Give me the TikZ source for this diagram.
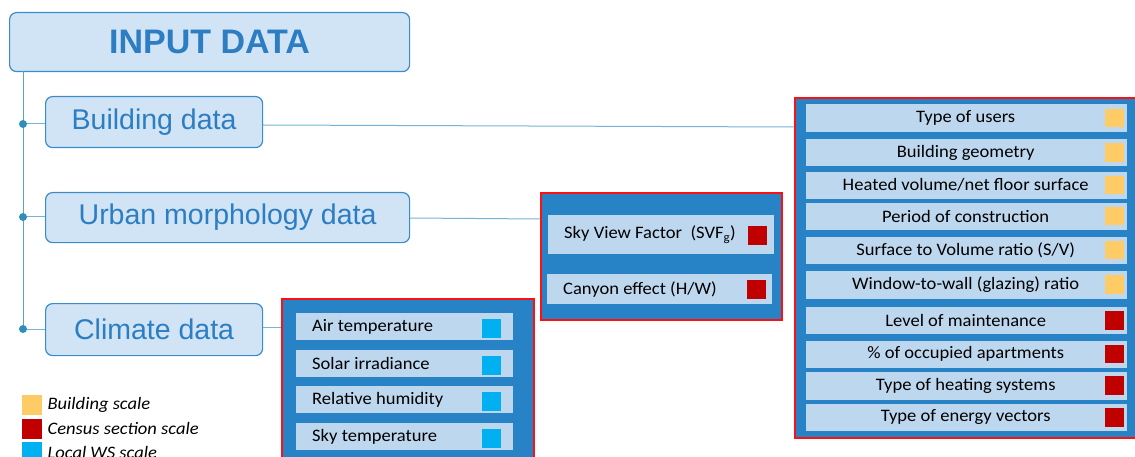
\documentclass[tikz,border=0pt]{standalone}
\usepackage{fontspec}
\setmainfont[FakeStretch=1.06]{Carlito}
\newfontfamily\arialf{Liberation Sans}
\definecolor{boxfill}{HTML}{D0E4F5}
\definecolor{boxline}{HTML}{3A8CCB}
\definecolor{titleblue}{HTML}{2C7DC2}
\definecolor{connc}{HTML}{78B2D6}
\definecolor{dotc}{HTML}{2F8FBA}
\definecolor{panelblue}{HTML}{2882C6}
\definecolor{itemfill}{HTML}{BDD7EE}
\definecolor{sqyellow}{HTML}{FFCB65}
\definecolor{sqred}{HTML}{C00000}
\definecolor{sqcyan}{HTML}{00B0F0}
\definecolor{redline}{HTML}{FF1010}
\begin{document}
\begin{tikzpicture}[x=1pt,y=-1pt,
  mainbox/.style={draw=boxline, fill=boxfill, rounded corners=7pt, line width=1.2pt,
    text=titleblue, font=\arialf\fontsize{28.5}{30}\selectfont, anchor=north west, inner sep=0pt},
  panel/.style={draw=redline, line width=2pt, fill=panelblue, anchor=north west, inner sep=0pt},
  item/.style={fill=itemfill, anchor=north west, inner sep=0pt, text=black,
    font=\fontsize{17.5}{20}\selectfont},
  sq/.style={anchor=north west, minimum size=18.5pt, inner sep=0pt},
  conn/.style={draw=connc, line width=1pt},
  leg/.style={anchor=west, inner sep=0pt, font=\itshape\fontsize{17.5}{20}\selectfont}
]
\useasboundingbox (0,0) rectangle (1135,457);
\clip (0,0) rectangle (1135,457);

% main boxes
\node[mainbox, minimum width=400pt, minimum height=59pt,
  font=\arialf\bfseries\fontsize{34}{36}\selectfont] (title) at (9,12) {INPUT DATA};
\node[mainbox, minimum width=217pt, minimum height=51pt] (bd) at (45,96) {Building data};
\node[mainbox, minimum width=364pt, minimum height=50pt] (ud) at (45,192) {Urban morphology data};
\node[mainbox, minimum width=217pt, minimum height=52pt] (cd) at (45,303) {Climate data};

% tree
\coordinate (vtop) at (23,71);
\coordinate (d1) at (23,124);
\coordinate (d2) at (23,217);
\coordinate (d3) at (23,329);
\draw[conn, draw=dotc!80] (vtop) -- (d3);
\draw[conn] (d1) -- (bd.west |- d1);
\draw[conn] (d2) -- (ud.west |- d2);
\draw[conn] (d3) -- (cd.west |- d3);
\fill[dotc] (d1) circle (4);
\fill[dotc] (d2) circle (4);
\fill[dotc] (d3) circle (4);

% panels
\node[panel, minimum width=252pt, minimum height=180pt] (cp) at (281,298) {};
\node[panel, minimum width=241pt, minimum height=127pt] (mp) at (540,192) {};
\node[panel, minimum width=360pt, minimum height=340pt] (bp) at (794,97) {};

% connectors to panels
\coordinate (bpin) at (794,127);
\coordinate (mpin) at (540,219);
\coordinate (cpin) at (281,327);
\draw[conn] (bd.east |- 0,125) -- (bpin);
\draw[conn] (ud.east |- 0,218) -- (mpin);
\draw[conn] (cd.east |- 0,327) -- (cpin);

% climate items
\foreach \y/\t/\n in {313/{Air temperature}/c1, 350/{Solar irradiance}/c2, 386/{Relative humidity}/c3, 423/{Sky temperature}/c4}{
  \node[item, minimum width=217pt, minimum height=26.5pt] (\n) at (296,\y) {};
  \node[anchor=west, inner sep=0pt, font=\fontsize{17.5}{20}\selectfont] (\n t) at ([xshift=16pt]\n.west) {\t};
  \node[sq, fill=sqcyan] (\n s) at (482,\y+6) {};
}

% morphology items
\node[item, minimum width=226pt, minimum height=39pt] (m1) at (548,215) {};
\node[anchor=west, inner sep=0pt, font=\fontsize{17.5}{20}\selectfont] (m1t) at ([xshift=16pt]m1.west) {Sky View Factor\ \ (SVF\textsubscript{g})};
\node[sq, fill=sqred] (m1s) at (748,226) {};
\node[item, minimum width=225pt, minimum height=30pt] (m2) at (547,274) {};
\node[anchor=west, inner sep=0pt, font=\fontsize{17.5}{20}\selectfont] (m2t) at ([xshift=16pt]m2.west) {Canyon effect (H/W)};
\node[sq, fill=sqred] (m2s) at (747,280) {};

% building items
\foreach \y/\h/\t/\c/\n in {
  104/28/{Type of users}/sqyellow/b1,
  139/27/{Building geometry}/sqyellow/b2,
  171.5/27/{Heated volume/net floor surface}/sqyellow/b3,
  202.5/27/{Period of construction}/sqyellow/b4,
  236.5/27/{Surface to Volume ratio (S/V)}/sqyellow/b5,
  270.5/28/{Window-to-wall (glazing) ratio}/sqyellow/b6,
  306.5/27.5/{Level of maintenance}/sqred/b7,
  340.5/27/{\% of occupied apartments}/sqred/b8,
  371.5/28/{Type of heating systems}/sqred/b9,
  403.5/27.5/{Type of energy vectors}/sqred/b10}{
  \node[item, minimum width=321pt, minimum height=\h pt] (\n) at (806,\y) {};
  \node[inner sep=0pt, font=\fontsize{17.5}{20}\selectfont] (\n t) at ([xshift=-1pt]\n.center) {\t};
  \node[sq, fill=\c] (\n s) at (1105,\y+\h/2-9.25) {};
}

% legend
\node[sq, fill=sqyellow, minimum size=20pt] (l1) at (22,395) {};
\node[leg] (l1t) at ([xshift=5pt]l1.east) {Building scale};
\node[sq, fill=sqred, minimum size=20pt] (l2) at (22,418.5) {};
\node[leg] (l2t) at ([xshift=5pt]l2.east) {Census section scale};
\node[sq, fill=sqcyan, minimum size=20pt] (l3) at (22,442) {};
\node[leg] (l3t) at ([xshift=5pt]l3.east) {Local WS scale};
\end{tikzpicture}
\end{document}
